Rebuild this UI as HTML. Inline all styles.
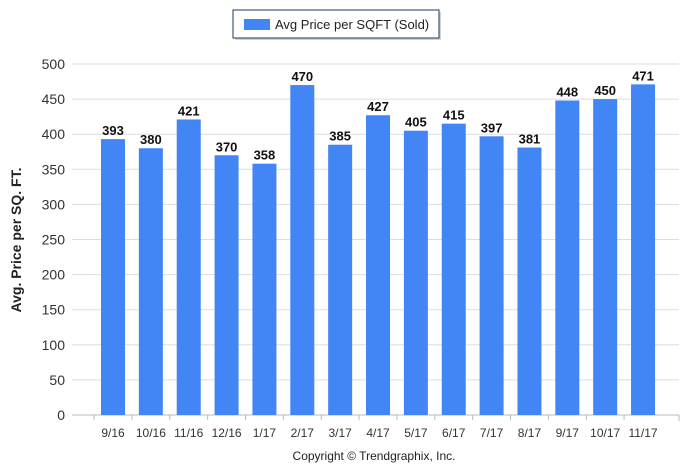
<!DOCTYPE html>
<html><head><meta charset="utf-8"><style>
body{margin:0;background:#fff;font-family:"Liberation Sans",sans-serif}
</style></head><body>
<svg width="690" height="470" xmlns="http://www.w3.org/2000/svg" font-family="Liberation Sans, sans-serif">
<g>
<rect x="235" y="12" width="206" height="28" fill="#9aa" opacity="0.5"/>
<rect x="233" y="10" width="206" height="28" fill="#fff" stroke="#1f3a60" stroke-width="1"/>
<rect x="244" y="19" width="26" height="11" fill="#4285f4"/>
<text x="275" y="29" font-size="13" fill="#222">Avg Price per SQFT (Sold)</text>
</g>
<text transform="translate(21,240) rotate(-90)" text-anchor="middle" font-size="14" font-weight="bold" fill="#222">Avg. Price per SQ. FT.</text>
<g id="grid"></g><g id="bars"></g>
<text x="374" y="460" text-anchor="middle" font-size="12" fill="#222">Copyright © Trendgraphix, Inc.</text>
</svg>
<script>
const categories=["9/16","10/16","11/16","12/16","1/17","2/17","3/17","4/17","5/17","6/17","7/17","8/17","9/17","10/17","11/17"];
const values=[393,380,421,370,358,470,385,427,405,415,397,381,448,450,471];
const yTicks=[0,50,100,150,200,250,300,350,400,450,500];
const NS="http://www.w3.org/2000/svg";
const y0=415,y1=64,xl=72,xr=679,x0=113,step=37.86,bw=24;
const ys=v=>y0-(v/500)*(y0-y1);
const xs=i=>x0+i*step;
const g=document.getElementById('grid'),b=document.getElementById('bars');
function mk(t,a,p){const e=document.createElementNS(NS,t);for(const k in a)e.setAttribute(k,a[k]);p.appendChild(e);return e;}
yTicks.forEach(t=>{
 const l=mk('line',{x1:xl,x2:xr,y1:ys(t),y2:ys(t),stroke:t===0?'#bbb':'#ddd','stroke-width':1},g);
 
 
 const tx=mk('text',{x:65,y:ys(t)+5,'text-anchor':'end','font-size':14,fill:'#333'},g);tx.textContent=t;
 
 
});
mk('line',{x1:xr,x2:xr,y1:y0,y2:y0+6,stroke:'#bbb'},g);
categories.forEach((c,i)=>{
 const x=xs(i)-step/2;
 mk('line',{x1:x,x2:x,y1:y0,y2:y0+5,stroke:'#bbb'},g);
 const r=mk('rect',{x:xs(i)-bw/2,y:ys(values[i]),width:bw,height:y0-ys(values[i]),fill:'#4285f4'},b);
 
 
 const v=mk('text',{x:xs(i),y:ys(values[i])-4,'text-anchor':'middle','font-size':13,'font-weight':'bold',fill:'#111'},b);v.textContent=values[i];
 
 
 const l=mk('text',{x:xs(i),y:437,'text-anchor':'middle','font-size':12,fill:'#333'},b);l.textContent=c;
 
 
});
</script>
</body></html>
